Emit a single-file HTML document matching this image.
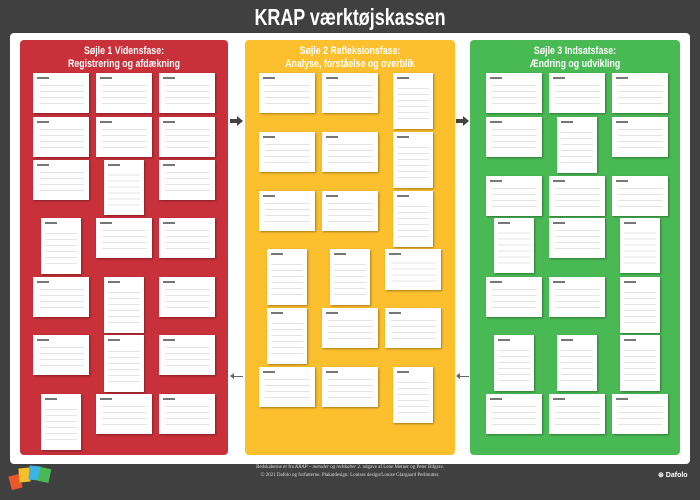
<!DOCTYPE html>
<html><head><meta charset="utf-8"><style>
*{margin:0;padding:0;box-sizing:border-box}
body{width:700px;height:500px;background:#404040;position:relative;overflow:hidden;font-family:"Liberation Sans",sans-serif}
.t{position:absolute;left:0;width:700px;top:4px;text-align:center;color:#fff;font-weight:bold;font-size:23px;transform:scaleX(.78)}
.panel{position:absolute;left:10px;top:33px;width:680px;height:431px;background:#fff;border-radius:4px}
.col{position:absolute;top:40px;height:415px;border-radius:4px}
.h{position:absolute;top:5px;left:0;width:100%;text-align:center;color:#fff;font-weight:bold;font-size:11px;line-height:13px;transform:scaleX(.8)}
.c{position:absolute;background:#fff;box-shadow:1px 1px 2px rgba(0,0,0,.35);background-image:repeating-linear-gradient(0deg,transparent 0 5px,#e4e4e4 5px 6px);background-size:80% 70%;background-position:50% 70%;background-repeat:no-repeat}
.c::before{content:"";position:absolute;left:4px;top:4px;width:12px;height:2px;background:#777}
.ar{position:absolute;width:0;height:0;border-top:5px solid transparent;border-bottom:5px solid transparent}
.ft{position:absolute;top:464px;left:0;width:700px;text-align:center;color:#ddd;font-family:"Liberation Serif",serif;font-size:5px;line-height:8px}
</style></head><body>
<div class="t">KRAP værktøjskassen</div>
<div class="panel"></div>
<div class="col" style="left:20px;width:208px;background:#c8303a"><div class="h">Søjle 1 Vidensfase:<br>Registrering og afdækning</div></div>
<div class="col" style="left:245px;width:210px;background:#fcbf2d"><div class="h">Søjle 2 Refleksionsfase:<br>Analyse, forståelse og overblik</div></div>
<div class="col" style="left:470px;width:210px;background:#49b954"><div class="h">Søjle 3 Indsatsfase:<br>Ændring og udvikling</div></div>

<div style="position:absolute;left:230px;top:119px;width:7px;height:4px;background:#444"></div><div class="ar" style="left:237px;top:116px;border-left:6px solid #444"></div>
<div style="position:absolute;left:456px;top:119px;width:7px;height:4px;background:#444"></div><div class="ar" style="left:463px;top:116px;border-left:6px solid #444"></div>
<div style="position:absolute;left:234px;top:376px;width:9px;height:1px;background:#666"></div><div class="ar" style="left:230px;top:373px;border-top-width:3px;border-bottom-width:3px;border-right:4px solid #666"></div>
<div style="position:absolute;left:460px;top:376px;width:9px;height:1px;background:#666"></div><div class="ar" style="left:456px;top:373px;border-top-width:3px;border-bottom-width:3px;border-right:4px solid #666"></div>

<!-- red -->
<div class="c" style="left:33px;top:73px;width:56px;height:40px"></div>
<div class="c" style="left:96px;top:73px;width:56px;height:40px"></div>
<div class="c" style="left:159px;top:73px;width:56px;height:40px"></div>
<div class="c" style="left:33px;top:117px;width:56px;height:40px"></div>
<div class="c" style="left:96px;top:117px;width:56px;height:40px"></div>
<div class="c" style="left:159px;top:117px;width:56px;height:40px"></div>
<div class="c" style="left:33px;top:160px;width:56px;height:40px"></div>
<div class="c" style="left:104px;top:160px;width:40px;height:55px"></div>
<div class="c" style="left:159px;top:160px;width:56px;height:40px"></div>
<div class="c" style="left:41px;top:218px;width:40px;height:56px"></div>
<div class="c" style="left:96px;top:218px;width:56px;height:40px"></div>
<div class="c" style="left:159px;top:218px;width:56px;height:40px"></div>
<div class="c" style="left:33px;top:277px;width:56px;height:40px"></div>
<div class="c" style="left:104px;top:277px;width:40px;height:56px"></div>
<div class="c" style="left:159px;top:277px;width:56px;height:40px"></div>
<div class="c" style="left:33px;top:335px;width:56px;height:40px"></div>
<div class="c" style="left:104px;top:335px;width:40px;height:57px"></div>
<div class="c" style="left:159px;top:335px;width:56px;height:40px"></div>
<div class="c" style="left:41px;top:394px;width:40px;height:56px"></div>
<div class="c" style="left:96px;top:394px;width:56px;height:40px"></div>
<div class="c" style="left:159px;top:394px;width:56px;height:40px"></div>

<!-- yellow -->
<div class="c" style="left:259px;top:73px;width:56px;height:40px"></div>
<div class="c" style="left:322px;top:73px;width:56px;height:40px"></div>
<div class="c" style="left:393px;top:73px;width:40px;height:56px"></div>
<div class="c" style="left:259px;top:132px;width:56px;height:40px"></div>
<div class="c" style="left:322px;top:132px;width:56px;height:40px"></div>
<div class="c" style="left:393px;top:132px;width:40px;height:56px"></div>
<div class="c" style="left:259px;top:191px;width:56px;height:40px"></div>
<div class="c" style="left:322px;top:191px;width:56px;height:40px"></div>
<div class="c" style="left:393px;top:191px;width:40px;height:56px"></div>
<div class="c" style="left:267px;top:249px;width:40px;height:56px"></div>
<div class="c" style="left:330px;top:249px;width:40px;height:56px"></div>
<div class="c" style="left:385px;top:249px;width:56px;height:41px"></div>
<div class="c" style="left:267px;top:308px;width:40px;height:56px"></div>
<div class="c" style="left:322px;top:308px;width:56px;height:40px"></div>
<div class="c" style="left:385px;top:308px;width:56px;height:40px"></div>
<div class="c" style="left:259px;top:367px;width:56px;height:40px"></div>
<div class="c" style="left:322px;top:367px;width:56px;height:40px"></div>
<div class="c" style="left:393px;top:367px;width:40px;height:56px"></div>

<!-- green -->
<div class="c" style="left:486px;top:73px;width:56px;height:40px"></div>
<div class="c" style="left:549px;top:73px;width:56px;height:40px"></div>
<div class="c" style="left:612px;top:73px;width:56px;height:40px"></div>
<div class="c" style="left:486px;top:117px;width:56px;height:40px"></div>
<div class="c" style="left:557px;top:117px;width:40px;height:56px"></div>
<div class="c" style="left:612px;top:117px;width:56px;height:40px"></div>
<div class="c" style="left:486px;top:176px;width:56px;height:40px"></div>
<div class="c" style="left:549px;top:176px;width:56px;height:40px"></div>
<div class="c" style="left:612px;top:176px;width:56px;height:40px"></div>
<div class="c" style="left:494px;top:218px;width:40px;height:55px"></div>
<div class="c" style="left:549px;top:218px;width:56px;height:40px"></div>
<div class="c" style="left:620px;top:218px;width:40px;height:55px"></div>
<div class="c" style="left:486px;top:277px;width:56px;height:40px"></div>
<div class="c" style="left:549px;top:277px;width:56px;height:40px"></div>
<div class="c" style="left:620px;top:277px;width:40px;height:56px"></div>
<div class="c" style="left:494px;top:335px;width:40px;height:56px"></div>
<div class="c" style="left:557px;top:335px;width:40px;height:56px"></div>
<div class="c" style="left:620px;top:335px;width:40px;height:56px"></div>
<div class="c" style="left:486px;top:394px;width:56px;height:40px"></div>
<div class="c" style="left:549px;top:394px;width:56px;height:40px"></div>
<div class="c" style="left:612px;top:394px;width:56px;height:40px"></div>

<!-- footer -->
<div style="position:absolute;left:10px;top:475px;width:11px;height:14px;background:#e85a2a;transform:rotate(-15deg)"></div>
<div style="position:absolute;left:19px;top:468px;width:11px;height:14px;background:#f7c028;transform:rotate(-5deg)"></div>
<div style="position:absolute;left:29px;top:466px;width:11px;height:14px;background:#3bb3e5;transform:rotate(5deg)"></div>
<div style="position:absolute;left:39px;top:468px;width:11px;height:14px;background:#49b954;transform:rotate(12deg)"></div>
<div class="ft">Redskaberne er fra <i>KRAP – metoder og redskaber</i> 2. udgave af Lene Metner og Peter Bilgrav.<br>© 2021 Dafolo og forfatterne. Plakatdesign: Louises design/Louise Glargaard Perlmutter.</div>
<div style="position:absolute;left:658px;top:471px;color:#fff;font-size:7px;font-weight:bold">⊛ Dafolo</div>
</body></html>
